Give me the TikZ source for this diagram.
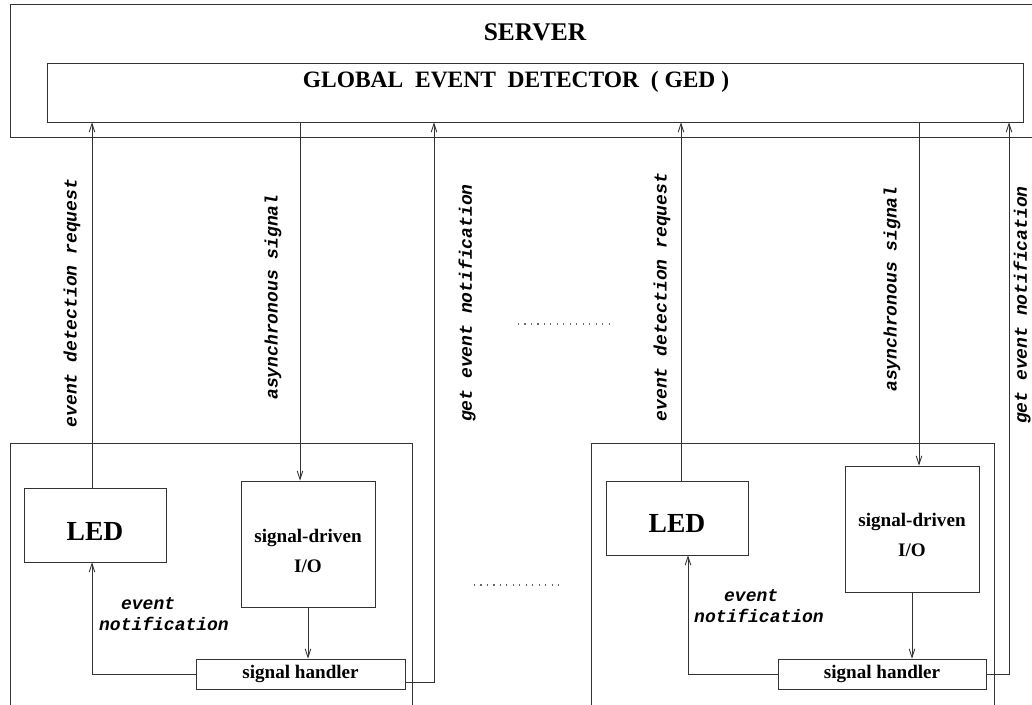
\documentclass[tikz,border=0pt]{standalone}
\usepackage{fontspec}
\setmainfont{Liberation Serif}
\setmonofont{Liberation Mono}
\usetikzlibrary{arrows.meta,calc}
\newcommand{\pxu}{0.025cm}

\begin{document}
\begin{tikzpicture}[
    x=\pxu, y=-\pxu,
    box/.style={draw=black!80, line width=0.6pt, inner sep=0pt, align=center, font=\bfseries\fontsize{13.6}{21}\selectfont},
    bigtxt/.style={font=\bfseries\fontsize{#1}{#1}\selectfont},
    arr/.style={-{Straight Barb[length=6pt,width=4pt]}, draw=black!80, line width=0.6pt},
    lbl/.style={font=\ttfamily\bfseries\itshape\fontsize{12.8}{15.2}\selectfont},
    vlbl/.style={lbl, rotate=90},
    dotline/.style={draw=black!60, line width=0.8pt, dash pattern=on 0.8pt off 3.8pt}
]
\clip (0,0) rectangle (1032,704);

% server
\node[box, anchor=north west, minimum width=1040*\pxu, minimum height=133*\pxu] (server) at (10,4) {};
\node[bigtxt=18.1] (srvtxt) at (535,32) {SERVER};
\node[box, minimum width=976*\pxu, minimum height=59*\pxu] (ged) at (535,92.5) {};
\node[bigtxt=16.7] (gedtxt) at (516,82) {GLOBAL\ \ EVENT\ \ DETECTOR\ \ ( GED )};

% clients
\node[box, anchor=north west, minimum width=402*\pxu, minimum height=300*\pxu] (host1) at (10,443) {};
\node[box, anchor=north west, minimum width=403*\pxu, minimum height=300*\pxu] (host2) at (591,443) {};

\node[box, bigtxt=19.6, text height=21.5pt, minimum width=142*\pxu, minimum height=74*\pxu] (led1) at (95,525) {LED};
\node[box, text height=40.5pt, minimum width=134*\pxu, minimum height=126*\pxu] (sig1) at (308,544) {signal-driven\\I/O};
\node[box, minimum width=209*\pxu, minimum height=30*\pxu] (hdl1) at (300.5,674) {signal handler};

\node[box, bigtxt=19.6, text height=20.5pt, minimum width=142*\pxu, minimum height=74*\pxu] (led2) at (677,518) {LED};
\node[box, text height=39pt, minimum width=134*\pxu, minimum height=126*\pxu] (sig2) at (912,529) {signal-driven\\I/O};
\node[box, minimum width=208*\pxu, minimum height=30*\pxu] (hdl2) at (882,674) {signal handler};

\coordinate (gx1) at (434,0);
\coordinate (gx2) at (1009,0);

% left client
\draw[arr] ([xshift=-3*\pxu]led1.north) -- ([xshift=-3*\pxu]led1.north |- ged.south);
\draw[arr] ([xshift=-8*\pxu]sig1.north |- ged.south) -- ([xshift=-8*\pxu]sig1.north);
\draw[arr] (sig1.south) -- (sig1.south |- hdl1.north);
\draw[arr] (hdl1.west) -| ([xshift=-3*\pxu]led1.south);
\draw[arr] ([yshift=-8*\pxu]hdl1.east) -| (gx1 |- ged.south);

% right client
\draw[arr] ([xshift=4*\pxu]led2.north) -- ([xshift=4*\pxu]led2.north |- ged.south);
\draw[arr] ([xshift=7*\pxu]sig2.north |- ged.south) -- ([xshift=7*\pxu]sig2.north);
\draw[arr] (sig2.south) -- (sig2.south |- hdl2.north);
\draw[arr] (hdl2.west) -| ([xshift=11*\pxu]led2.south);
\draw[arr] (hdl2.east) -| (gx2 |- ged.south);

% labels
\node[vlbl] (edr1) at (72,303) {event detection request};
\node[vlbl] (as1) at (273,297) {asynchronous signal};
\node[vlbl] (gen1) at (467,303) {get event notification};
\node[vlbl] (edr2) at (662,297) {event detection request};
\node[vlbl] (as2) at (892,289) {asynchronous signal};
\node[vlbl] (gen2) at (1022,305) {get event notification};

\node[lbl, align=left] (en1) at (164,614) {\hspace*{15.6pt}event\\notification};
\node[lbl, align=left] (en2) at (759,606) {\hspace*{21.3pt}event\\notification};

\draw[dotline] (518,324) -- (612,324);
\draw[dotline] (474,585) -- (560,585);
\end{tikzpicture}
\end{document}
